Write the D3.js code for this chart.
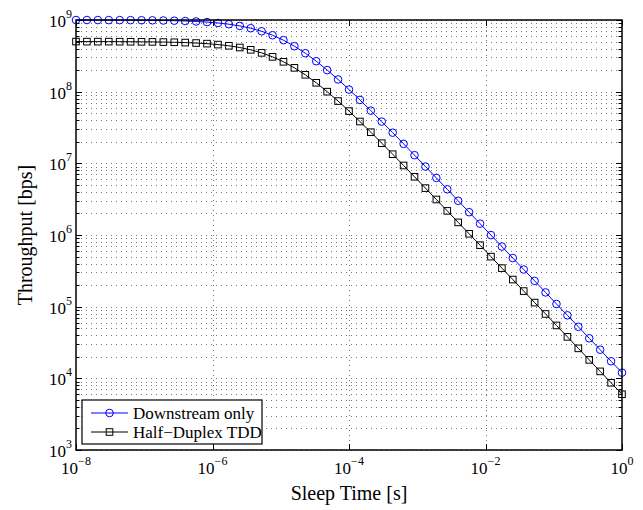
<!DOCTYPE html>
<html>
<head>
<meta charset="utf-8">
<script src="https://cdn.jsdelivr.net/npm/d3@7"></script>
<style>
  body { margin: 0; background: #fff; }
  svg text { font-family: "Liberation Serif", "Times New Roman", serif; fill: #000; }
</style>
</head>
<body>
<div id="chart"></div>
<script>
// sleep time [s], 51 points log-spaced from 1e-8 to 1
var sleepTime = [1e-8, 1.445e-8, 2.089e-8, 3.020e-8, 4.365e-8, 6.310e-8, 9.120e-8, 1.318e-7, 1.905e-7, 2.754e-7,
    3.981e-7, 5.754e-7, 8.318e-7, 1.202e-6, 1.738e-6, 2.512e-6, 3.631e-6, 5.248e-6, 7.586e-6, 1.096e-5,
    1.585e-5, 2.291e-5, 3.311e-5, 4.786e-5, 6.918e-5, 1e-4, 1.445e-4, 2.089e-4, 3.020e-4, 4.365e-4,
    6.310e-4, 9.120e-4, 1.318e-3, 1.905e-3, 2.754e-3, 3.981e-3, 5.754e-3, 8.318e-3, 1.202e-2, 1.738e-2,
    2.512e-2, 3.631e-2, 5.248e-2, 7.586e-2, 0.1096, 0.1585, 0.2291, 0.3311, 0.4786, 0.6918, 1];

var downstream = [9.99e8, 9.99e8, 9.98e8, 9.97e8, 9.96e8, 9.95e8, 9.92e8, 9.89e8, 9.84e8, 9.78e8,
    9.68e8, 9.54e8, 9.35e8, 9.09e8, 8.73e8, 8.27e8, 7.68e8, 6.96e8, 6.13e8, 5.23e8,
    4.31e8, 3.44e8, 2.66e8, 2.00e8, 1.48e8, 1.07e8, 7.67e7, 5.43e7, 3.82e7, 2.68e7,
    1.87e7, 1.30e7, 9.02e6, 6.26e6, 4.34e6, 3.00e6, 2.08e6, 1.44e6, 9.97e5, 6.90e5,
    4.77e5, 3.30e5, 2.29e5, 1.58e5, 1.09e5, 7.57e4, 5.24e4, 3.62e4, 2.51e4, 1.73e4, 1.20e4];

var halfDuplex = [5.00e8, 4.99e8, 4.99e8, 4.99e8, 4.98e8, 4.97e8, 4.96e8, 4.95e8, 4.92e8, 4.89e8,
    4.84e8, 4.77e8, 4.68e8, 4.54e8, 4.37e8, 4.13e8, 3.84e8, 3.48e8, 3.06e8, 2.61e8,
    2.15e8, 1.72e8, 1.33e8, 1.00e8, 7.39e7, 5.36e7, 3.83e7, 2.72e7, 1.91e7, 1.34e7,
    9.33e6, 6.49e6, 4.51e6, 3.13e6, 2.17e6, 1.50e6, 1.04e6, 7.21e5, 4.99e5, 3.45e5,
    2.39e5, 1.65e5, 1.14e5, 7.91e4, 5.47e4, 3.79e4, 2.62e4, 1.81e4, 1.25e4, 8.67e3, 6.00e3];

var seriesNames = ["Downstream only", "Half\u2212Duplex TDD"];
var xTickExp = [-8, -6, -4, -2, 0];
var yTickExp = [3, 4, 5, 6, 7, 8, 9];

var W = 643, H = 510;
var m = {left: 76, right: 21, top: 20, bottom: 60};
var pw = W - m.left - m.right, ph = H - m.top - m.bottom;

var svg = d3.select("#chart").append("svg").attr("width", W).attr("height", H);
var g = svg.append("g").attr("transform", "translate(" + m.left + "," + m.top + ")");

var x = d3.scaleLog().domain([1e-8, 1]).range([0, pw]);
var y = d3.scaleLog().domain([1e3, 1e9]).range([ph, 0]);

// minor y values
var yMinor = [];
for (var e = 3; e < 9; e++) {
    for (var k = 2; k <= 9; k++) yMinor.push(k * Math.pow(10, e));
}
var yMajor = yTickExp.map(function (d) { return Math.pow(10, d); });
var xMajor = xTickExp.map(function (d) { return Math.pow(10, d); });

// grid
var grid = g.append("g").attr("stroke", "#777").attr("stroke-width", 1).attr("stroke-dasharray", "1,4");
grid.selectAll(".hg").data(yMajor.concat(yMinor)).enter().append("line")
    .attr("x1", 0).attr("x2", pw)
    .attr("y1", function (d) { return Math.round(y(d)) + 0.5; })
    .attr("y2", function (d) { return Math.round(y(d)) + 0.5; });
grid.selectAll(".vg").data(xMajor.slice(1, -1)).enter().append("line")
    .attr("y1", 0).attr("y2", ph)
    .attr("x1", function (d) { return Math.round(x(d)) + 0.5; })
    .attr("x2", function (d) { return Math.round(x(d)) + 0.5; });

// ticks, inward on all sides
var ticks = g.append("g").attr("stroke", "#000").attr("stroke-width", 1);
yMajor.concat(yMinor).forEach(function (d) {
    var len = yMajor.indexOf(d) >= 0 ? 6 : 3.5;
    var yy = Math.round(y(d)) + 0.5;
    ticks.append("line").attr("x1", 0).attr("x2", len).attr("y1", yy).attr("y2", yy);
    ticks.append("line").attr("x1", pw).attr("x2", pw - len).attr("y1", yy).attr("y2", yy);
});
xMajor.forEach(function (d) {
    var xx = Math.round(x(d)) + 0.5;
    ticks.append("line").attr("x1", xx).attr("x2", xx).attr("y1", ph).attr("y2", ph - 6);
    ticks.append("line").attr("x1", xx).attr("x2", xx).attr("y1", 0).attr("y2", 6);
});

// tick labels
xTickExp.forEach(function (e) {
    var t = g.append("text").attr("x", x(Math.pow(10, e))).attr("y", ph + 24)
        .attr("text-anchor", "middle").style("font-size", "17px");
    t.append("tspan").text("10");
    t.append("tspan").attr("dy", -9).style("font-size", "12px").text(e === 0 ? "0" : "\u2212" + (-e));
});
yTickExp.forEach(function (e) {
    var t = g.append("text").attr("x", -4).attr("y", y(Math.pow(10, e)) + 7)
        .attr("text-anchor", "end").style("font-size", "17px");
    t.append("tspan").text("10");
    t.append("tspan").attr("dy", -9).style("font-size", "12px").text(e);
});

// axis labels
svg.append("text").attr("x", m.left + pw / 2).attr("y", 500).attr("text-anchor", "middle")
    .style("font-size", "20px").text("Sleep Time [s]");
svg.append("text").attr("transform", "translate(32," + (m.top + ph / 2) + ") rotate(-90)")
    .attr("text-anchor", "middle").style("font-size", "20px").text("Throughput [bps]");

// lines and markers
var line = d3.line().x(function (d) { return x(d[0]); }).y(function (d) { return y(d[1]); });
var series = [
    {name: seriesNames[0], vals: downstream, color: "#0000ff", marker: "circle"},
    {name: seriesNames[1], vals: halfDuplex, color: "#000000", marker: "square"}
];

function drawMarker(sel, s, cx, cy) {
    if (s.marker === "circle") {
        sel.append("circle").attr("cx", cx).attr("cy", cy).attr("r", 3.8)
            .attr("fill", "none").attr("stroke", s.color).attr("stroke-width", 1);
    } else {
        sel.append("rect").attr("x", cx - 3.3).attr("y", cy - 3.3).attr("width", 6.6).attr("height", 6.6)
            .attr("fill", "none").attr("stroke", s.color).attr("stroke-width", 1);
    }
}

series.forEach(function (s) {
    var pts = sleepTime.map(function (t, i) { return [t, s.vals[i]]; });
    g.append("path").datum(pts).attr("d", line).attr("fill", "none")
        .attr("stroke", s.color).attr("stroke-width", 1);
    var mg = g.append("g");
    pts.forEach(function (p) { drawMarker(mg, s, x(p[0]), y(p[1])); });
});

// axis box
g.append("rect").attr("x", 0).attr("y", 0).attr("width", pw).attr("height", ph)
    .attr("fill", "none").attr("stroke", "#000").attr("stroke-width", 1.5);

// legend
var lg = svg.append("g").attr("transform", "translate(82,400)");
lg.append("rect").attr("width", 180).attr("height", 44).attr("fill", "#fff")
    .attr("stroke", "#000").attr("stroke-width", 1.2);
series.forEach(function (s, i) {
    var ly = 13 + i * 19;
    lg.append("line").attr("x1", 9).attr("x2", 46).attr("y1", ly).attr("y2", ly)
        .attr("stroke", s.color).attr("stroke-width", 1);
    drawMarker(lg, s, 27.5, ly);
    lg.append("text").attr("x", 51).attr("y", ly + 6).style("font-size", "17px").text(s.name);
});
</script>
</body>
</html>
